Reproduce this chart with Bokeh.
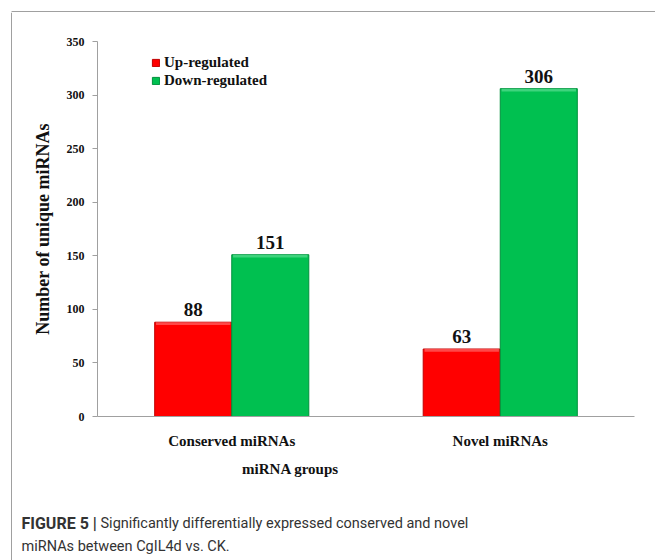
from bokeh.plotting import figure
from bokeh.layouts import column, row
from bokeh.models import (FactorRange, Range1d, SingleIntervalTicker, Legend, LegendItem,
                          ColumnDataSource)
from bokeh.transform import dodge
from bokeh.core.properties import value
from bokeh.embed import file_html
from bokeh.resources import INLINE

# Data
groups = ["Conserved miRNAs", "Novel miRNAs"]
up_regulated = [88, 63]
down_regulated = [151, 306]
series_names = ["Up-regulated", "Down-regulated"]
y_max = 350
x_title = "miRNA groups"
y_title = "Number of unique miRNAs"
caption_head = "FIGURE 5 |"
caption_line1 = "Significantly differentially expressed conserved and novel"
caption_line2 = "miRNAs between CgIL4d vs. CK."

SERIF = "Liberation Serif"
CAP_FONT = "Roboto"
INK = "#111111"
CAP_INK = "#333333"
FRAME_GRAY = "#a0a0a0"
RED, RED_EDGE, RED_TOP = "#ff0000", "#c00000", "#ff5a5a"
GREEN, GREEN_EDGE, GREEN_TOP = "#00c050", "#00913c", "#4ed888"

MAIN_H = 441
LOWER_H = 548 - MAIN_H


def unaligned(f):
    # keep every panel at its own fixed borders inside the layout
    if "frame_align" in f.properties():
        f.frame_align = False
    return f


def blank(w, h, xr, yr):
    f = figure(width=w, height=h, x_range=xr, y_range=yr, output_backend="svg",
               toolbar_location=None, x_axis_type=None, y_axis_type=None, min_border=0)
    f.outline_line_color = None
    f.xgrid.visible = False
    f.ygrid.visible = False
    f.background_fill_color = "white"
    f.border_fill_color = "white"
    return unaligned(f)


# thin frame lines around the figure panel
top_strip = blank(655, 12, Range1d(0, 655), Range1d(12, 0))
top_strip.line(x=[11.25, 655], y=[11.25, 11.25], line_color=FRAME_GRAY, line_width=1.5)
top_strip.line(x=[11.25, 11.25], y=[11.25, 12], line_color=FRAME_GRAY, line_width=1.5)
left_strip = blank(12, 548, Range1d(0, 12), Range1d(548, 0))
left_strip.line(x=[11.25, 11.25], y=[0, 548], line_color=FRAME_GRAY, line_width=1.5)

# main bar chart
LABEL_GAP = 11.5  # value-label centre above the bar top, in data units
src = ColumnDataSource(dict(group=groups, up=up_regulated, down=down_regulated,
                            up_lbl=[str(v) for v in up_regulated],
                            down_lbl=[str(v) for v in down_regulated],
                            up_y=[v + LABEL_GAP for v in up_regulated],
                            down_y=[v + LABEL_GAP for v in down_regulated],
                            up_hi=[v - 2.6 for v in up_regulated],
                            down_hi=[v - 2.6 for v in down_regulated]))

p = figure(width=643, height=MAIN_H, x_range=FactorRange(*groups),
           y_range=Range1d(0, y_max), output_backend="svg", toolbar_location=None,
           min_border_left=85, min_border_right=21, min_border_top=29, min_border_bottom=37)
unaligned(p)
p.outline_line_color = None
p.background_fill_color = "white"
p.border_fill_color = "white"
p.xgrid.visible = False
p.ygrid.visible = False

off = 0.1435
bw = 0.287
r_up = p.vbar(x=dodge("group", -off, range=p.x_range), top="up", width=bw, source=src,
              fill_color=RED, line_color=RED_EDGE, line_width=1)
p.vbar(x=dodge("group", -off, range=p.x_range), top="up", bottom="up_hi", width=bw - 0.01,
       source=src, fill_color=RED_TOP, line_color=None, fill_alpha=0.8)
r_dn = p.vbar(x=dodge("group", off, range=p.x_range), top="down", width=bw, source=src,
              fill_color=GREEN, line_color=GREEN_EDGE, line_width=1)
p.vbar(x=dodge("group", off, range=p.x_range), top="down", bottom="down_hi", width=bw - 0.01,
       source=src, fill_color=GREEN_TOP, line_color=None, fill_alpha=0.8)

# value labels above bars
for ycol, lbl, dx in (("up_y", "up_lbl", -off), ("down_y", "down_lbl", off)):
    p.text(x=dodge("group", dx, range=p.x_range), y=ycol, text=lbl, source=src,
           text_font=value(SERIF), text_font_style="bold", text_font_size="19px",
           text_align="center", text_baseline="middle", text_color=INK)

yax = p.yaxis[0]
yax.ticker = SingleIntervalTicker(interval=50)
yax.minor_tick_line_color = None
yax.major_tick_out = 5
yax.major_tick_in = 0
yax.axis_line_color = FRAME_GRAY
yax.major_tick_line_color = FRAME_GRAY
yax.major_label_text_font = SERIF
yax.major_label_text_font_style = "bold"
yax.major_label_text_font_size = "12px"
yax.major_label_text_color = INK
yax.major_label_standoff = 8
yax.axis_label = y_title
yax.axis_label_text_font = SERIF
yax.axis_label_text_font_style = "bold"
yax.axis_label_text_font_size = "18px"
yax.axis_label_text_color = INK
yax.axis_label_standoff = 11

xax = p.xaxis[0]
xax.major_tick_line_color = None
xax.minor_tick_line_color = None
xax.axis_line_color = FRAME_GRAY
xax.major_label_text_font = SERIF
xax.major_label_text_font_style = "bold"
xax.major_label_text_font_size = "15px"
xax.major_label_text_color = INK
xax.major_label_standoff = 10

legend = Legend(items=[LegendItem(label=series_names[0], renderers=[r_up]),
                       LegendItem(label=series_names[1], renderers=[r_dn])],
                location=(54, 327), orientation="vertical")
legend.border_line_color = None
legend.background_fill_alpha = 0
legend.label_text_font = SERIF
legend.label_text_font_style = "bold"
legend.label_text_font_size = "15px"
legend.label_text_color = INK
legend.glyph_width = 9
legend.glyph_height = 9
legend.label_height = 18
legend.label_standoff = 4
legend.spacing = 0
legend.padding = 0
legend.margin = 0
p.add_layout(legend, "center")

# x-axis title and figure caption (pixel-like coordinates, y grows downward)
lower = blank(643, LOWER_H, Range1d(0, 643), Range1d(LOWER_H, 0))
lower.text(x=[278], y=[15], text=[x_title], text_font=value(SERIF), text_font_style="bold",
           text_font_size="15px", text_align="center", text_baseline="middle",
           text_color=INK)
lower.text(x=[9], y=[70], text=[caption_head], text_font=value(CAP_FONT),
           text_font_style="bold", text_font_size="16px", text_baseline="middle",
           text_color=CAP_INK)
lower.text(x=[88], y=[70], text=[caption_line1], text_font=value(CAP_FONT),
           text_font_size="14.5px", text_baseline="middle", text_color=CAP_INK)
lower.text(x=[9], y=[93], text=[caption_line2], text_font=value(CAP_FONT),
           text_font_size="14.5px", text_baseline="middle", text_color=CAP_INK)

layout = column(top_strip, row(left_strip, column(p, lower, spacing=0), spacing=0), spacing=0)
open("out.html", "w").write(file_html(layout, INLINE))
